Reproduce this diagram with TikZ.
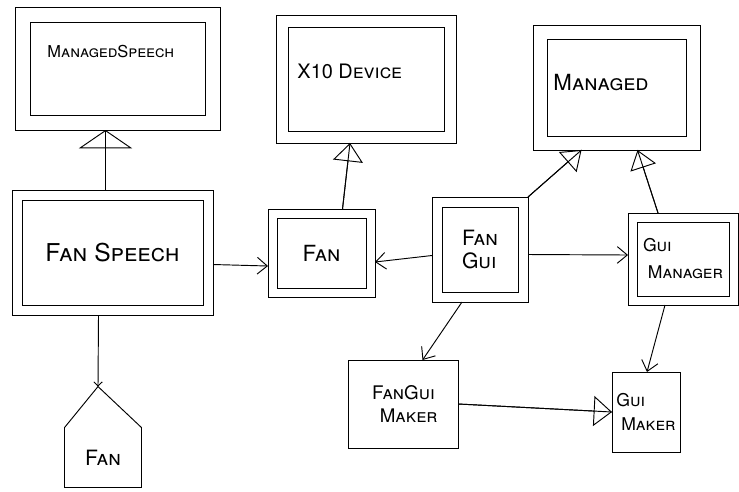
\documentclass[tikz,border=0pt]{standalone}
\usepackage{fontspec}
\setmainfont{TeX Gyre Heros}
\usetikzlibrary{arrows.meta,calc,positioning}
\newcommand{\hw}[2]{\fontsize{#1}{#2}\selectfont\scshape}

\begin{document}
\begin{tikzpicture}[
    x=0.03cm, y=-0.03cm,
    line width=0.8pt,
    classbox/.style={rectangle, draw, inner sep=0pt, outer sep=0pt, align=center},
    plainbox/.style={rectangle, draw, inner sep=0pt, outer sep=0pt, align=center},
    titletext/.style={inner sep=0pt, anchor=base west},
    inherit/.style={postaction={draw, -{Triangle[open, length=0.55cm, width=#1]}}},
    inherit/.default=0.9cm,
    assoc/.style={-{Straight Barb[length=0.3cm, width=0.5cm]}}
]
\useasboundingbox (0,0) rectangle (739,491);

% top row: base classes
\node[classbox, minimum width=6.15cm, minimum height=3.69cm] (ms) at (117.5,68.5) {};
\node[titletext, font=\hw{14}{17}] (msText) at (47,57) {ManagedSpeech};
\node[classbox, minimum width=5.4cm, minimum height=3.84cm] (x10) at (366,79) {};
\node[titletext, font=\hw{17}{20}] (x10Text) at (297,78) {X10 Device};
\node[classbox, minimum width=5.01cm, minimum height=3.75cm] (managed) at (616.5,87.5) {};
\node[titletext, font=\hw{19}{22}] (managedText) at (553,90) {Managed};

% middle row
\node[classbox, minimum width=6.03cm, minimum height=3.75cm, font=\hw{21}{24}] (fanSpeech) at (112.5,252.5) {Fan Speech};
\node[classbox, minimum width=3.21cm, minimum height=2.64cm, font=\hw{19}{22}] (fan) at (321.5,253) {Fan};
\node[classbox, minimum width=2.88cm, minimum height=3.15cm, font=\hw{18}{19}, align=left] (fanGui) at (480,249.5) {Fan\\Gui};
\node[classbox, minimum width=3.3cm, minimum height=2.76cm, font=\hw{15}{23}, align=left] (guiManager) at (683,259) {Gui\\\ Manager};

% inner frames of the class boxes
\foreach \n/\g in {ms/15, x10/12, managed/14, fanSpeech/10, fan/9, fanGui/10, guiManager/9}
    \draw ($(\n.north west)+(\g,\g)$) rectangle ($(\n.south east)-(\g,\g)$);

% bottom row
\node[plainbox, minimum width=3.3cm, minimum height=2.64cm, font=\hw{16}{20}] (fanGuiMaker) at (403.5,404) {FanGui\\\ \ Maker};
\node[plainbox, minimum width=2.04cm, minimum height=2.4cm, font=\hw{15}{21}, align=left] (guiMaker) at (646,412) {Gui\\\ Maker};
\node[inner sep=0pt, minimum width=2.28cm, minimum height=1.77cm, font=\hw{18}{20}] (fanPkg) at (103,457.5) {Fan};
\coordinate (fanPkgTop) at ($(fanPkg.north)+(-5,-41)$);
\draw (fanPkg.south west) -- (fanPkg.north west) -- (fanPkgTop) -- (fanPkg.north east) -- (fanPkg.south east) -- cycle;

% generalisation
\draw[inherit=1.6cm] ($(fanSpeech.north)+(-7,0)$) -- ($(ms.south)+(-12,0)$);
\draw[inherit] ($(fan.north)+(21,0)$) -- ($(x10.south)+(-16,0)$);
\draw[inherit=0.8cm] (fanGui.north east) -- ($(managed.south)+(-35,0)$);
\draw[inherit=0.8cm] ($(guiManager.north)+(-25,0)$) -- ($(managed.south)+(21,0)$);
\draw[inherit] (fanGuiMaker.east) -- (guiMaker.west);

% associations
\draw[assoc] ($(fanSpeech.east)+(0,12)$) -- ($(fan.west)+(0,13)$);
\draw[assoc] ($(fanGui.west)+(0,6)$) -- ($(fan.east)+(0,9)$);
\draw[assoc] ($(fanGui.east)+(0,5)$) -- ($(guiManager.west)+(0,-4)$);
\draw[assoc] ($(fanGui.south)+(-18,0)$) -- ($(fanGuiMaker.north)+(19,0)$);
\draw[assoc] ($(guiManager.south)+(-18,0)$) -- ($(guiMaker.north)+(1,0)$);
\draw[-{Straight Barb[length=0.12cm, width=0.25cm]}] ($(fanSpeech.south)+(-14,0)$) -- (fanPkgTop);

\end{tikzpicture}
\end{document}
